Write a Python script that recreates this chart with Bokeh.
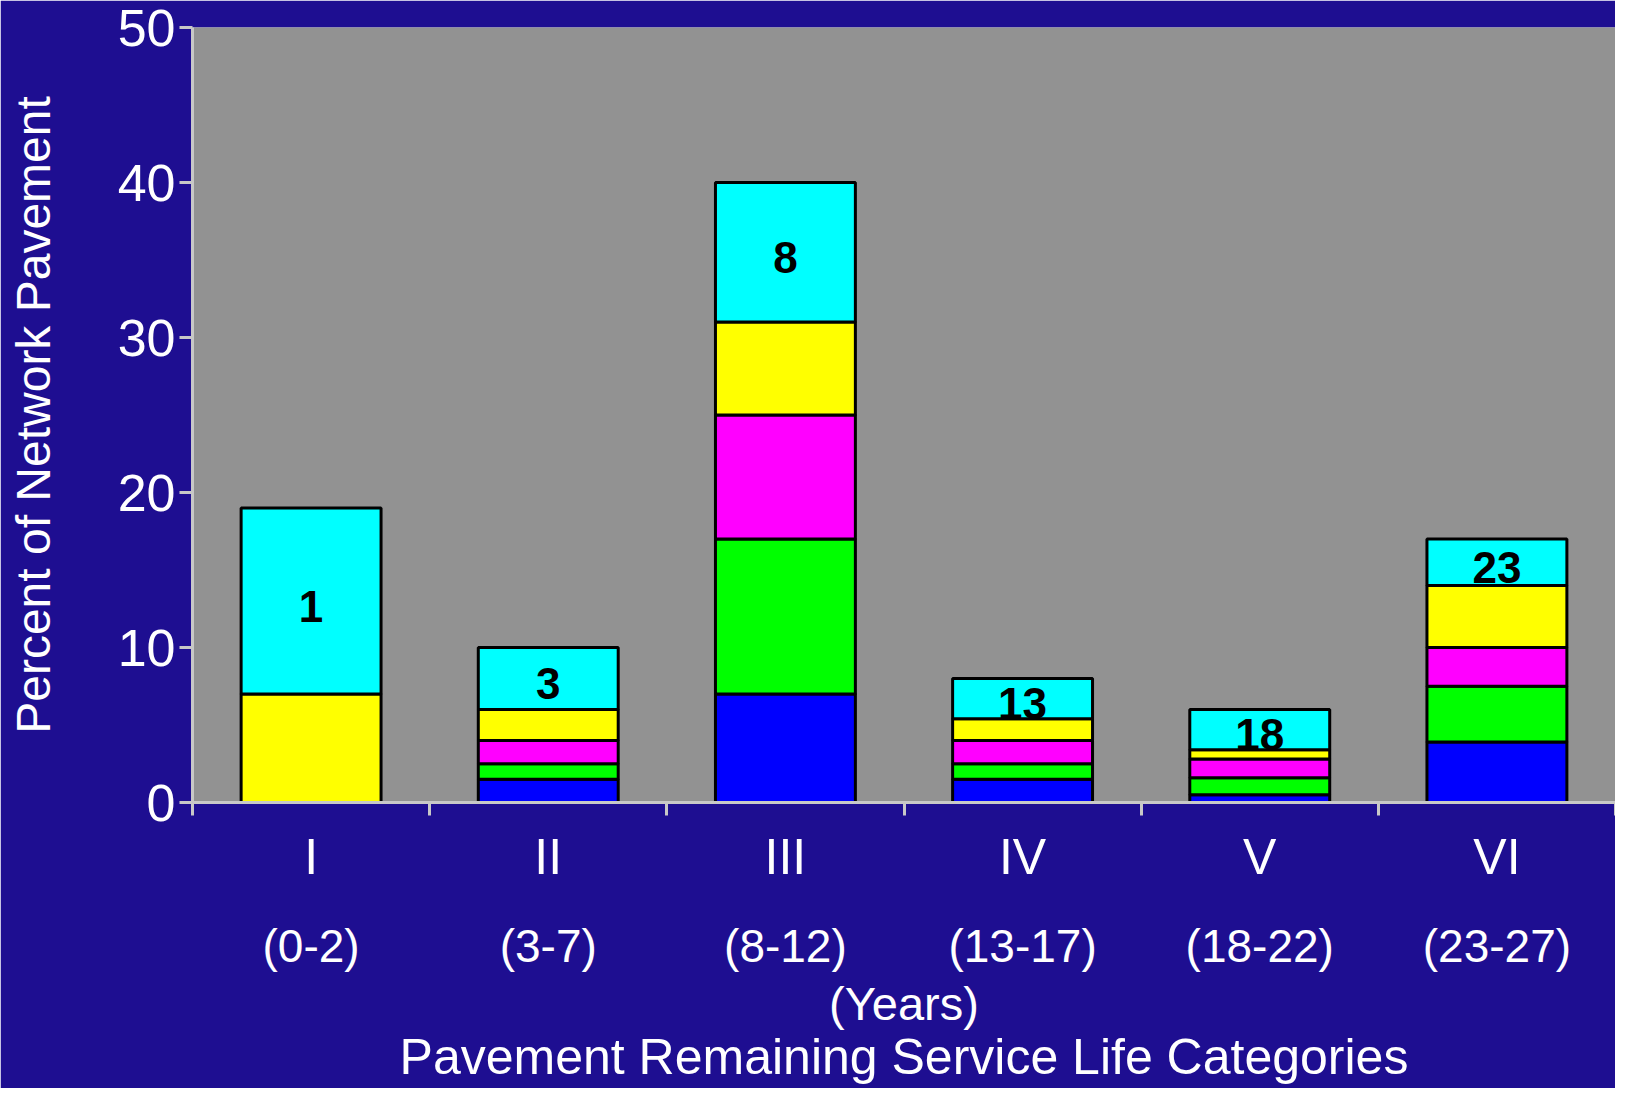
from bokeh.plotting import figure
from bokeh.models import Range1d, FixedTicker, ColumnDataSource, LabelSet, LinearAxis, Title
from bokeh.core.properties import value
from bokeh.embed import file_html
from bokeh.resources import INLINE

# ---------------- data ----------------
categories = ["I", "II", "III", "IV", "V", "VI"]
year_ranges = ["(0-2)", "(3-7)", "(8-12)", "(13-17)", "(18-22)", "(23-27)"]
blue_vals = [0, 1.5, 7, 1.5, 0.5, 3.9]
green_vals = [0, 1.0, 10, 1.0, 1.1, 3.6]
magenta_vals = [0, 1.5, 8, 1.5, 1.2, 2.5]
yellow_vals = [7, 2.0, 6, 1.4, 0.6, 4.0]
cyan_vals = [12, 4.0, 9, 2.6, 2.6, 3.0]
bar_labels = ["1", "3", "8", "13", "18", "23"]
y_ticks = [0, 10, 20, 30, 40, 50]
y_title = "Percent of Network Pavement"
x_sub_title = "(Years)"
x_title = "Pavement Remaining Service Life Categories"

# ---------------- styling ----------------
NAVY = "#1E0E91"
GRAY = "#929292"
AXIS = "#C8C8C8"
FONT = "Liberation Sans"
series = ["blue", "green", "magenta", "yellow", "cyan"]
colors = ["#0000FF", "#00FF00", "#FF00FF", "#FFFF00", "#00FFFF"]

n = len(categories)
centers = [i + 0.5 for i in range(n)]
bounds = list(range(n + 1))
totals = [b + g + m + y + c for b, g, m, y, c in
          zip(blue_vals, green_vals, magenta_vals, yellow_vals, cyan_vals)]
label_y = [t - c / 2 for t, c in zip(totals, cyan_vals)]

source = ColumnDataSource(dict(
    x=centers, blue=blue_vals, green=green_vals, magenta=magenta_vals,
    yellow=yellow_vals, cyan=cyan_vals, label=bar_labels, label_y=label_y,
))

p = figure(width=1615, height=1088,
           x_range=Range1d(0, n), y_range=Range1d(y_ticks[0], y_ticks[-1]),
           output_backend="svg", toolbar_location=None,
           min_border_left=192, min_border_right=0,
           min_border_top=27, min_border_bottom=286)

p.background_fill_color = GRAY
p.border_fill_color = NAVY
p.outline_line_color = None
p.grid.visible = False

# y axis
p.yaxis.ticker = FixedTicker(ticks=y_ticks)
p.yaxis.major_label_text_font = FONT
p.yaxis.major_label_text_font_size = "52px"
p.yaxis.major_label_text_color = "white"
p.yaxis.axis_line_color = AXIS
p.yaxis.axis_line_width = 3
p.yaxis.major_tick_line_color = AXIS
p.yaxis.major_tick_line_width = 3
p.yaxis.major_tick_out = 13
p.yaxis.major_tick_in = 0
p.yaxis.minor_tick_line_color = None
p.yaxis.major_label_standoff = 4
p.yaxis.axis_label = y_title
p.yaxis.axis_label_text_font = FONT
p.yaxis.axis_label_text_font_size = "48px"
p.yaxis.axis_label_text_font_style = "normal"
p.yaxis.axis_label_text_color = "white"
p.yaxis.axis_label_standoff = 55

# x axis 1: roman numerals at centres, tick marks at category boundaries
xa = p.xaxis[0]
xa.ticker = FixedTicker(ticks=centers, minor_ticks=bounds)
xa.major_label_overrides = {c: cat for c, cat in zip(centers, categories)}
xa.major_label_text_font = FONT
xa.major_label_text_font_size = "50px"
xa.major_label_text_color = "white"
xa.major_label_standoff = 13
xa.axis_line_color = AXIS
xa.axis_line_width = 3
xa.major_tick_line_color = None
xa.major_tick_out = 0
xa.major_tick_in = 0
xa.minor_tick_line_color = AXIS
xa.minor_tick_line_width = 3
xa.minor_tick_out = 13
xa.minor_tick_in = 0

# x axis 2: year ranges and "(Years)"
xa2 = LinearAxis(ticker=FixedTicker(ticks=centers),
                 major_label_overrides={c: yr for c, yr in zip(centers, year_ranges)},
                 major_label_text_font=FONT, major_label_text_font_size="46px",
                 major_label_text_color="white", major_label_standoff=32,
                 axis_line_color=None, major_tick_line_color=None,
                 minor_tick_line_color=None, major_tick_out=0, major_tick_in=0,
                 axis_label=x_sub_title, axis_label_text_font=FONT,
                 axis_label_text_font_size="47px", axis_label_text_font_style="normal",
                 axis_label_text_color="white", axis_label_standoff=2)
p.add_layout(xa2, "below")

p.add_layout(Title(text=x_title, align="center", text_font=FONT,
                   text_font_size="50px", text_font_style="normal",
                   text_color="white", standoff=-11), "below")

# stacked bars
p.vbar_stack(series, x="x", width=0.59, source=source,
             fill_color=colors, line_color="black", line_width=3)

# data labels in the cyan segment
p.add_layout(LabelSet(x="x", y="label_y", text="label", source=source,
                      text_font=value(FONT), text_font_size="44px",
                      text_font_style="bold", text_color="black",
                      text_align="center", text_baseline="middle", y_offset=-5))

open("out.html", "w").write(file_html(p, INLINE))
